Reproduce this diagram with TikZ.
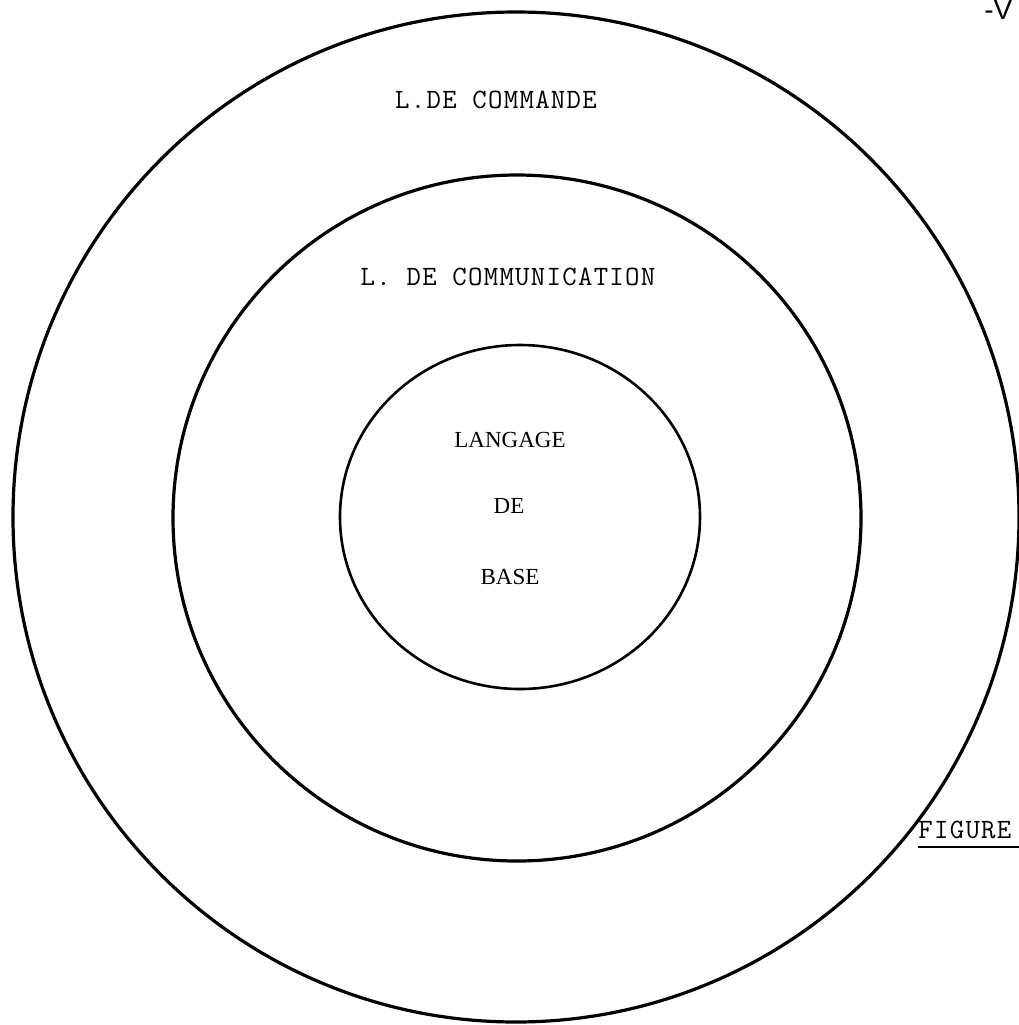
\documentclass[tikz,border=0pt]{standalone}
\usepackage{fontspec}
\setmainfont{Liberation Serif}
\setmonofont{Latin Modern Mono}[LetterSpace=4.6]
\newfontfamily\sansf{Liberation Sans}
\tikzset{
  ring/.style={draw=black, line width=1.6pt},
  tw/.style={font=\ttfamily\fontsize{14}{16}\selectfont, inner sep=0pt},
  rm/.style={font=\rmfamily\fontsize{11.5}{13}\selectfont, inner sep=0pt}
}
\begin{document}
\begin{tikzpicture}[x=0.5pt,y=-0.5pt]
\useasboundingbox (0,0) rectangle (1019,1025);
\draw[ring] (516,517) ellipse [x radius=503, y radius=505];
\draw[ring] (517,518) ellipse [x radius=344, y radius=343];
\draw[ring, line width=1.3pt] (520,517) ellipse [x radius=180, y radius=172];
\node[tw] (cmd) at (496,100) {L.DE COMMANDE};
\node[tw] (com) at (508,277) {L. DE COMMUNICATION};
\node[rm] (lang) at (510,440) {LANGAGE};
\node[rm] (de) at (509,506) {DE};
\node[rm] (base) at (510,577) {BASE};
\node[tw, anchor=west] (fig) at (918,830) {FIGURE};
\draw[line width=0.8pt] (918,847) -- (1019,847);
\node[font=\sansf\fontsize{14}{16}\selectfont, inner sep=0pt, anchor=west] (v) at (984,10) {-V};
\end{tikzpicture}
\end{document}
